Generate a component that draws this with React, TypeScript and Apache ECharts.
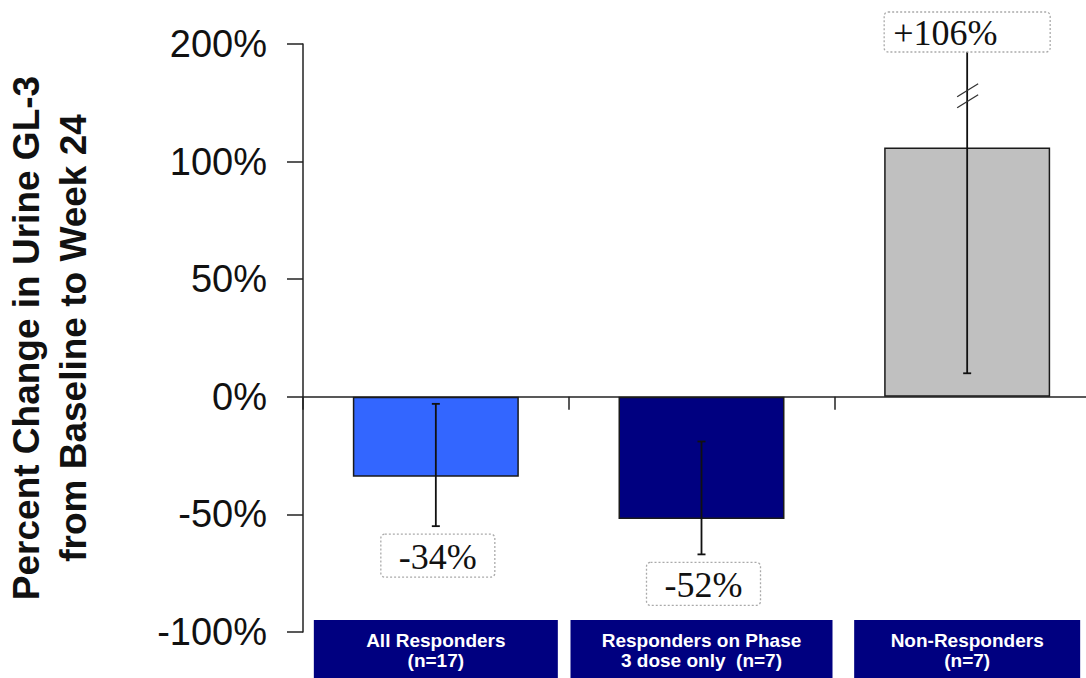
import { useEffect, useRef } from 'react';
import * as echarts from 'echarts';

// ---- data ----
const categories = [
  'All Responders\n(n=17)',
  'Responders on Phase\n3 dose only  (n=7)',
  'Non-Responders\n(n=7)',
];
const barValues = [-34, -52, 106];
const errLow = [-55, -67, 10];
// the non-responder upper error runs past the axis break (to the top of the axis)
const errHigh = [-3, -19, 150];
const valueLabels = ['-34%', '-52%', '+106%'];
const yTickLabels = ['-100%', '-50%', '0%', '50%', '100%', '200%'];
const barColors = ['#3366FF', '#000080', '#C0C0C0'];
const breakMarkAt = 128;

// ---- style constants ----
const BAR_W = 166;
const CAT_BOX_W = [244, 262, 226];
const SANS = '"Liberation Sans", Arial, sans-serif';
const SERIF = '"Liberation Serif", "Times New Roman", serif';

export default function App() {
  const ref = useRef<HTMLDivElement>(null);

  useEffect(() => {
    if (!ref.current) return;
    const chart = echarts.init(ref.current, null, { renderer: 'svg' });
    const axisLine = { color: '#222', width: 1.5 };

    const renderItem = (params: any, api: any) => {
      const i = api.value(0);
      const lo = api.value(1);
      const hi = api.value(2);
      const v = api.value(3);
      const pLo = api.coord([i, lo]);
      const pHi = api.coord([i, hi]);
      const x = pLo[0];
      const ls = { stroke: '#111', lineWidth: 1.8 };
      const children: any[] = [
        { type: 'line', shape: { x1: x, y1: pLo[1], x2: x, y2: pHi[1] }, style: ls },
        { type: 'line', shape: { x1: x - 4, y1: pLo[1], x2: x + 4, y2: pLo[1] }, style: ls },
        { type: 'line', shape: { x1: x - 4, y1: pHi[1], x2: x + 4, y2: pHi[1] }, style: ls },
      ];
      const label = valueLabels[params.dataIndex];
      if (v < 0) {
        const w = 114;
        const h = 43;
        const top = pLo[1] + 8;
        children.push({
          type: 'rect',
          shape: { x: x - w / 2 + 2, y: top, width: w, height: h, r: 4 },
          style: { fill: '#fff', stroke: '#aaa', lineWidth: 1.3, lineDash: [2, 2] },
        });
        children.push({
          type: 'text',
          style: {
            text: label, x: x + 2, y: top + h / 2 + 1, align: 'center', verticalAlign: 'middle',
            font: `36px ${SERIF}`, fill: '#111',
          },
        });
      } else {
        const pb = api.coord([i, breakMarkAt]);
        const yc = pb[1];
        const ms = { stroke: '#333', lineWidth: 1.3 };
        children.push({ type: 'line', shape: { x1: x - 10, y1: yc - 5.5 + 6.5, x2: x + 11, y2: yc - 5.5 - 6.5 }, style: ms });
        children.push({ type: 'line', shape: { x1: x - 10, y1: yc + 5.5 + 6.5, x2: x + 11, y2: yc + 5.5 - 6.5 }, style: ms });
        const h = 40;
        const bottom = pHi[1] + 8;
        const left = x - BAR_W / 2;
        children.push({
          type: 'rect',
          shape: { x: left, y: bottom - h, width: BAR_W, height: h, r: 4 },
          style: { fill: '#fff', stroke: '#aaa', lineWidth: 1.3, lineDash: [2, 2] },
        });
        children.push({
          type: 'text',
          style: {
            text: label, x: left + 9, y: bottom - h / 2 + 1, align: 'left', verticalAlign: 'middle',
            font: `36px ${SERIF}`, fill: '#111',
          },
        });
      }
      return { type: 'group', children };
    };

    const option: any = {
      animation: false,
      backgroundColor: '#ffffff',
      grid: {
        left: 303, top: 44, width: 797, height: 588,
        containLabel: false, outerBoundsMode: 'none',
      },
      xAxis: [
        {
          type: 'category',
          data: categories,
          position: 'bottom',
          axisLine: { show: true, onZero: true, lineStyle: axisLine },
          axisTick: { show: true, length: 13, lineStyle: axisLine },
          axisLabel: { show: false },
          splitLine: { show: false },
        },
        {
          type: 'category',
          data: categories.map((c, i) => ({ value: c, textStyle: { width: CAT_BOX_W[i] } })),
          position: 'bottom',
          offset: -12,
          axisLine: { show: false, onZero: false },
          axisTick: { show: false },
          splitLine: { show: false },
          axisLabel: {
            margin: 0,
            color: '#ffffff',
            fontFamily: SANS,
            fontWeight: 'bold',
            fontSize: 19,
            lineHeight: 20,
            backgroundColor: '#000080',
            padding: [10, 0, 9, 0],
            width: 240,
            align: 'center',
            interval: 0,
          },
        },
      ],
      yAxis: {
        type: 'value',
        min: -100,
        max: 150,
        interval: 50,
        axisLine: { show: true, onZero: false, lineStyle: axisLine },
        axisTick: { show: true, length: 16, lineStyle: axisLine },
        splitLine: { show: false },
        axisLabel: {
          margin: 36,
          fontSize: 38,
          color: '#111',
          fontFamily: SANS,
          formatter: (v: number) => yTickLabels[Math.round((v + 100) / 50)],
        },
        name: 'Percent Change in Urine GL-3\nfrom Baseline to Week 24',
        nameLocation: 'middle',
        nameRotate: 90,
        nameGap: 206,
        nameTextStyle: {
          fontSize: 37,
          fontWeight: 'bold',
          lineHeight: 47,
          color: '#111',
          fontFamily: SANS,
        },
      },
      series: [
        {
          type: 'bar',
          xAxisIndex: 0,
          barWidth: BAR_W,
          data: barValues.map((v, i) => ({ value: v, itemStyle: { color: barColors[i] } })),
          itemStyle: { borderColor: '#1a1a1a', borderWidth: 1.5 },
        },
        {
          type: 'custom',
          xAxisIndex: 0,
          clip: false,
          z: 5,
          encode: { x: 0, y: [1, 2] },
          data: barValues.map((v, i) => [i, errLow[i], errHigh[i], v]),
          renderItem,
        },
      ],
    };
    chart.setOption(option);
    return () => chart.dispose();
  }, []);

  return (
    <div
      style={{
        position: 'absolute', left: 0, top: 0, width: 1086, height: 678,
        overflow: 'hidden', background: '#fff',
      }}
    >
      <div ref={ref} style={{ width: 1110, height: 678 }} />
    </div>
  );
}
